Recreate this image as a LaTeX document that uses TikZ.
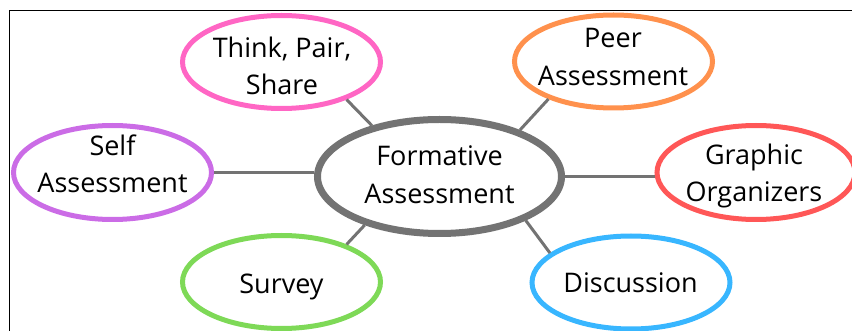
\documentclass[tikz,border=0pt]{standalone}
\usepackage{fontspec}
\setmainfont{Open Sans}
\usetikzlibrary{shapes.geometric}
\definecolor{hubgray}{HTML}{737373}
\definecolor{cpink}{HTML}{FF66C4}
\definecolor{corange}{HTML}{FF914D}
\definecolor{cpurple}{HTML}{CB6CE6}
\definecolor{cred}{HTML}{FF5757}
\definecolor{cgreen}{HTML}{7ED957}
\definecolor{cblue}{HTML}{38B6FF}
\begin{document}
\begin{tikzpicture}[x=1pt,y=-1pt,
  bubble/.style={ellipse, draw, line width=5pt, minimum width=198pt, minimum height=93pt, inner sep=0pt},
  hub/.style={ellipse, draw=hubgray, line width=7pt, minimum width=244pt, minimum height=114pt, inner sep=0pt},
  lbl/.style={align=center, inner sep=0pt, font=\fontsize{27}{37.5}\selectfont, text=black},
  link/.style={draw=hubgray, line width=3pt},
  frame/.style={draw=black, line width=1pt}]
\useasboundingbox (0,0) rectangle (852,331);
\coordinate (fb) at (9,331);
\coordinate (fc) at (9,11);
\coordinate (fr) at (852,11);
\draw[frame] (fb) -- (fc) -- (fr);

\node[hub] (hub) at (439.5,176.5) {};
\node[bubble, draw=cpink] (tps) at (281.5,62) {};
\node[bubble, draw=corange] (peer) at (613.5,61.5) {};
\node[bubble, draw=cpurple, minimum height=94pt] (self) at (112.5,172.5) {};
\node[bubble, draw=cred, minimum height=94pt] (graph) at (756,172.5) {};
\node[bubble, draw=cgreen] (survey) at (281.5,282) {};
\node[bubble, draw=cblue] (disc) at (631,282.5) {};

\draw[link] (hub.143.3) -- (tps.-30.3);
\draw[link] (hub.30.1) -- (peer.210.4);
\draw[link] (self.east) -- (self.east -| hub.west);
\draw[link] (hub.east) -- (hub.east -| graph.west);
\draw[link] (hub.213.1) -- (survey.30.2);
\draw[link] (hub.-27.8) -- (disc.160.6);

\node[lbl] (thub) at (439.5,174.75) {Formative\\Assessment};
\node[lbl] (ttps) at (282,65.8) {Think, Pair,\\Share};
\node[lbl] (tpeer) at (613,57.1) {Peer\\Assessment};
\node[lbl] (tself) at (112.5,164) {Self\\Assessment};
\node[lbl] (tgraph) at (754,176) {Graphic\\Organizers};
\node[lbl] (tsurvey) at (281.5,286.6) {Survey};
\node[lbl] (tdisc) at (630.5,283) {Discussion};
\end{tikzpicture}
\end{document}
